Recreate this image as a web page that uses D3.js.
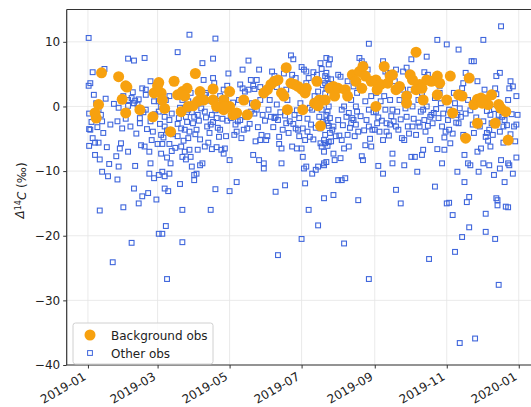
<!DOCTYPE html>
<html lang="en">
<head>
	<meta charset="utf-8">
	<title>Background vs other obs</title>
	<script src='https://d3js.org/d3.v7.min.js'></script>
	<style>
		body { margin:0; background:#fff; }
		text { font-family:"DejaVu Sans", sans-serif; fill:#222; }
		.grid line { stroke:#e4e4e4; stroke-width:0.8; }
		.axis path, .axis line { stroke:#333; }
	</style>
</head>
<body>
	<div id="chart"></div>
	<script>
		// day offsets from 2019-01-01, value in permil
		var bgObs = [
			[7,-1.8],[6,-1],[9,0.3],[11.5,5.2],[26,4.6],[29,1.1],[32,3.2],[33,3],[32,-1.0],[44,-0.5],
			[55,-1.6],[60,3.7],[62,2.1],[56,2.1],[65,-0.3],[63,1],[70,-3.9],[73,3.9],[76,1.8],[80,2.3],
			[84,2.8],[79,-0.8],[85,0],[91,5.1],[95,2.3],[93,0.8],[89,0.1],[106,2.7],[106,1],[109,0],
			[115,-0.5],[120,2.3],[120,0],[123,-1.3],[126,-1],[132,1],[135,-1.3],[142,0.3],[149,2.1],[152,2.6],
			[155,3.4],[158,3.9],[161,4.1],[168,6.0],[166,1.6],[169,-0.5],[172,3.6],[175,3.4],[178,3.1],[181,2.7],
			[184,2.1],[182,-0.5],[185,2.8],[192,0.5],[194,3.9],[196,1.0],[197,-3.0],[201,1],[195,0.1],[205,2.8],
			[208,3.1],[209,1.6],[212,2.8],[218,2.6],[220,1.6],[224,4.9],[227,3.9],[230,5.4],[233,6.2],[232,2.8],
			[235,4.7],[240,3.9],[244,0],[244,4.1],[248,3.4],[251,6.2],[254,3.6],[258,4.9],[261,2.6],[264,3.1],
			[270,1.6],[270,0.5],[273,4.9],[275,4.1],[278,8.4],[281,3.4],[284,1],[287,4.1],[291,3.9],[296,4.7],
			[296,1.8],[298,3.6],[304,1],[307,4.7],[309,-1],[314,1.8],[317,1.6],[320,-4.9],[323,4.4],[327,0.3],
			[330,1.1],[330,-2.6],[333,1.3],[336,1.0],[339,0.3],[342,1.8],[345,-2.6],[348,0.3],[350,-0.3],[354,-0.8],
			[356,-5.2],[58,2.3],[59,3.2],[82,1.6],[98,1],[115,1],[116,0],[164,2.1],[245,2.6],[256,4.7],
			[278,2.6],[283,2.8],[334,0.5]
		];
		var otherObs = [
			// Jan
			[0.6,10.6],[0.6,3.2],[2,3.6],[4,5.3],[14,5.8],[1,-1.1],[1,-3.5],[2,-3.6],[1,-6.1],[4,-4.9],
			[6,-5.6],[9,-5.6],[6,-7.5],[10,-8.2],[12,-10.1],[17,-10.8],[10,-16.1],[15,1.2],[11,-1.3],[9,-0.5],
			[12,-2.3],[7,0.5],[21,-24.1],[24,-7.7],[25,-11.3],[26,-9.3],[27,-6.5],[26,-0.2],[25,-2.3],[29,-3.4],
			[30,-15.6],[28,-5.7],[3,-2.4],[8,-3.2],[13,-4.1],[16,-6.3],[19,-2.8],[22,0.4],[5,1.8],[18,-8.9],
			// Feb
			[34,7.4],[39,7.1],[48,7.5],[30,1.6],[34,1],[34,0.1],[39,0.5],[37,1.3],[40,0.9],[43,1.1],
			[34,-7],[40,-9.2],[39,-12.7],[43,-15],[37,-21.1],[46,-13.9],[51,-13.4],[45,-6],[48,-6.2],[52,-7],
			[53,-8.8],[52,-10.4],[56,-11.1],[46,2.8],[49,-0.5],[53,-2.3],[55,-3.9],[44,-1.8],[49,1.8],[56,0.8],
			[58,-14.4],[49,2.6],[53,3.9],[32,-1.9],[36,-3.1],[41,-4.2],[44,-2.6],[47,-0.9],[50,-3.5],[54,-5.2],
			[57,-1.2],[38,2.2],[42,0.3],
			// Mar
			[60,-19.7],[63,-19.7],[66,-18.5],[67,-26.7],[65,-12.7],[68,-13.1],[65,-10.8],[60,-10.6],[63,-10.1],[69,-10.4],
			[70,-8.8],[67,-7.9],[62,-7.3],[59,-5.8],[63,-5.8],[69,-5.8],[62,-4.4],[65,-3.1],[69,-2.1],[65,-1.6],
			[60,-0.8],[62,0],[60,0.8],[66,1],[69,1.6],[74,4.1],[76,8.4],[79,-3.4],[76,-4.6],[79,-6.2],
			[80,-7.8],[82,-7],[78,-12.0],[80,-16],[80,-21],[76,-2.7],[83,-1.6],[85,-0.5],[82,-3.6],[86,11.1],
			[85,-4.9],[86,-6.7],[88,-9.3],[87,-7.8],[83,-8.2],[85,0.8],[87,2.1],[80,1],[82,2.3],
			[61,-2.7],[64,-4.8],[67,-3.7],[71,-1.1],[72,-4.3],[74,-6.4],[77,-1.8],[78,-0.2],[81,-5.3],[84,-2.4],
			[86,-3.9],[88,-0.9],[71,-6.9],
			// Apr
			[90,-10.6],[92,-10.4],[90,-11.4],[93,-6.7],[95,-9.1],[97,-8.8],[99,-6.2],[95,-5.1],[92,-3.6],[89,-2.6],
			[90,-1.6],[93,-1.3],[97,6.7],[98,4.1],[99,1.8],[100,2.1],[102,0.9],[99,-0.8],[104,-2.8],[101,-3.1],
			[105,-1.3],[106,7.4],[108,10.5],[107,3.6],[106,4.4],[104,-16],[108,-12.8],[105,-6.6],[109,-6.3],[111,-4.7],
			[112,-3.6],[113,-6.7],[115,-7.3],[116,-6.5],[118,-2.2],[113,-0.5],[112,1.6],[115,2.6],[117,1],[118,3.2],
			[111,0.5],[109,-1.8],[91,-4.3],[94,-2.2],[96,-0.3],[100,-1.7],[103,-4.1],[106,-2.4],[108,-0.6],[110,-3.3],
			[114,-1.9],[117,-4.6],[119,-0.4],[102,-5.6],
			// May
			[120,-13.1],[120,-8.3],[119,5.1],[125,-2.8],[124,-4.4],[126,-3.9],[125,-1],[128,1],[131,2.8],[131,5.7],
			[126,-11.7],[129,-2.1],[132,-3.6],[135,-3.4],[136,7.1],[138,4.1],[140,3.2],[140,-7.5],[142,-5.4],[145,-8.3],
			[146,-5.2],[143,-0.5],[145,5.7],[146,1],[148,-1.3],[149,-8.8],[149,-9.6],[133,0.8],[138,-0.8],[139,0.5],
			[136,2.6],[143,4.1],[146,3.0],[133,2.3],[121,-1.8],[123,0.6],[127,-2.3],[130,-4.9],[134,-1.6],[137,-2.7],
			[141,-1.1],[144,-3.2],[147,-4.4],[150,-2.2],[129,3.4],[141,2.7],
			// Jun
			[151,-5.2],[152,-4.6],[155,-1.6],[158,-1.8],[159,-1.6],[161,-2.1],[162,-4.7],[162,-5.8],[164,-6.5],[159,-13.2],
			[161,-23],[167,-12.2],[164,-8.8],[156,5.4],[158,4.7],[154,1],[168,2.6],[169,1],[168,-2.6],[171,-2.3],
			[172,7.9],[174,7.3],[173,4.9],[176,4.4],[175,-1.3],[176,-3.4],[178,-3.6],[179,-1.8],[180,0.5],[177,-6.5],
			[173,-6.2],[153,-0.5],[157,-3.2],[160,0.3],[163,-0.9],[165,-3.6],[167,-1.4],[170,-4.1],[174,-2.7],[177,-0.6],
			[179,-4.6],[160,3.0],[166,5.1],
			// Jul
			[181,-20.5],[184,-11.9],[183,-9.6],[185,-9.3],[182,-7.8],[181,-6.5],[184,-5.2],[181,6.1],[183,5.7],[185,5.4],
			[187,4.4],[185,3.6],[182,-3.4],[186,-3.9],[188,-4.7],[187,-16],[190,-10.4],[193,-9.8],[191,5.3],[194,4.9],
			[195,-18.4],[195,-9.3],[197,-5.7],[198,-6.2],[200,-5.2],[200,-7],[200,-8.8],[200,-14.2],[197,6.7],[198,5.8],
			[201,4.7],[202,7.5],[205,7.3],[204,6.5],[201,3.6],[202,2.8],[204,0],[202,-1.3],[205,-1.8],[203,-2.6],
			[207,-3.6],[208,-3.1],[205,-4.1],[208,-7.3],[209,-8.3],[208,-13.7],[197,-3.4],[201,-5.7],[209,1.6],[198,-0.5],
			[194,0.8],[195,2.3],[190,-0.5],[192,1.6],[202,5.2],[203,4.3],[204,3.5],[201,2.0],[203,-0.8],[202,-2.2],
			[204,-3.0],[201,-4.4],[203,-6.1],[202,-8.6],[200,-9.1],[204,-5.5],[186,-1.9],[188,-0.2],[189,-2.8],[191,-5.1],
			[193,-3.3],[196,-1.6],[199,-2.4],[206,-5.4],[210,-4.6],[199,3.3],[206,4.2],
			// Aug
			[212,-11.4],[215,-11.4],[217,-21.2],[218,-11.1],[214,-8],[217,-6.5],[215,-5.2],[220,-4.4],[221,-6.2],[212,-2.1],
			[215,-0.5],[217,0],[221,-1],[223,-2.6],[224,-1.8],[225,-2.1],[227,-2.8],[229,-3.9],[229,-14.5],[233,-8.3],
			[232,-7.7],[232,7],[230,7.5],[234,6.5],[237,5.7],[238,9.7],[238,-26.7],[240,-6.2],[235,-6],[238,-3.1],
			[241,-3.6],[225,3.1],[228,2.1],[220,3.9],[212,4.9],[214,4.6],[238,-0.5],[235,0.8],[227,0],[223,1],
			[240,1.6],[213,-4.5],[216,-2.9],[219,-1.6],[222,-3.3],[226,-4.6],[228,-0.8],[231,-1.5],[234,-3.7],[236,-2.1],
			[239,-5.0],[242,-0.9],[229,5.2],
			// Sep
			[243,-3.6],[245,-2.6],[247,-3.9],[246,-9.2],[250,-5.2],[250,-10.4],[253,-2.6],[253,-3.9],[256,-2.8],[258,-7.3],
			[258,-8.8],[261,-3.1],[261,-12.9],[263,-3.6],[265,-15],[266,-4.9],[268,-5.2],[270,-1.6],[271,-3.1],[268,-9.1],
			[250,7],[252,5.4],[254,5.2],[248,0.8],[251,1.6],[256,1],[258,-0.5],[261,5.7],[264,1],[244,2.1],
			[247,3.6],[267,5.4],[270,6],[267,2.6],[273,2.6],[244,-0.8],[246,-1.7],[249,-2.2],[252,-0.5],[255,-4.5],
			[257,-1.5],[259,-2.3],[262,-0.8],[265,-2.0],[269,-0.3],[272,-4.2],[260,3.9],
			// Oct
			[274,7.3],[275,0],[275,-3.1],[277,-7.8],[279,-10.1],[274,-7.8],[281,-3.1],[283,-7.5],[284,-6.7],[286,-3.9],
			[287,7.7],[288,4.9],[289,-23.6],[290,-5.2],[291,-1.3],[293,-1],[290,-1.6],[294,-12.4],[296,10.3],[296,-6.6],
			[300,-8.8],[302,-6.7],[303,-3.9],[300,-3.1],[299,0.5],[294,1.3],[298,2.1],[284,-0.5],[287,0],[283,2.1],
			[298,3.2],[280,1],[276,-1.9],[278,-4.4],[280,-2.5],[282,-0.8],[285,-2.1],[288,-3.0],[292,-2.6],[295,-0.4],
			[297,-1.8],[301,-1.1],[302,-4.8],[285,5.3],
			// Nov
			[304,9.6],[304,-15],[306,-14.9],[309,-16.8],[311,-22.5],[313,-10.1],[307,-5.7],[306,-3.6],[314,8.8],[315,-36.6],
			[316,-1.6],[317,-20.2],[319,-11.7],[319,-7.5],[321,-14.8],[323,-18.7],[323,-14],[322,-8.8],[324,-9.1],[325,7],
			[327,7],[326,-2.8],[328,-35.9],[330,-7],[331,-10.1],[333,-6.5],[310,2.1],[311,0.5],[313,-1.3],[317,2.8],
			[322,1],[320,5.2],[330,3.9],[326,0],[306,-0.5],[314,-2.6],[305,-2.1],[308,-1.4],[309,-4.2],[312,-2.5],
			[315,-0.3],[318,-4.4],[320,-1.1],[324,-0.6],[327,-4.1],[329,-1.7],[332,-3.1],[318,3.6],
			// Dec
			[335,10.3],[337,-16.6],[337,-19.4],[340,-9.1],[335,-8.8],[337,-4.7],[338,-4.1],[340,-3.6],[341,-6.2],[344,-10.6],
			[345,-20.5],[346,-14.2],[347,-14.5],[347,-15.3],[348,-27.6],[349,-9.6],[350,12.4],[350,-8.3],[349,5.2],[346,4.7],
			[345,2.8],[353,-11.7],[354,-15.5],[356,-15.6],[356,-8.8],[357,-9.1],[360,-10.4],[363,-7.9],[361,-3.1],[363,-2.8],
			[364,-1.3],[363,1.6],[357,2.8],[358,3.9],[360,3.1],[356,1],[352,-3.1],[353,-2.1],[349,-3.9],[336,2.6],
			[348,-1.3],[341,-1.3],[335,-2.3],[338,-0.7],[339,-5.3],[342,-2.6],[343,-4.4],[344,-0.4],[347,-2.2],[351,-1.6],
			[352,-5.6],[355,-2.9],[358,-4.3],[359,-1.2],[362,-5.4],[346,1.9]
		];
		var yTicks = [10, 0, -10, -20, -30, -40];
		var xTickLabels = ["2019-01","2019-03","2019-05","2019-07","2019-09","2019-11","2020-01"];
		var legendLabels = ["Background obs", "Other obs"];

		const width = 531;
		const height = 407;
		const mLeft = 66.7, mTop = 9.5, mRight = 540, mBottom = 365;
		const orange = "#f7a10f", blue = "#3f66dc";

		var start = new Date(2019, 0, 1);
		function toDate(d) { return new Date(start.getTime() + d * 864e5); }

		var svg = d3.select("#chart").append("svg")
			.attr("width", width)
			.attr("height", height);

		var xscale = d3.scaleTime()
			.domain([new Date(2018, 11, 14), new Date(2020, 0, 19)])
			.range([mLeft, mRight]);
		var yscale = d3.scaleLinear()
			.domain([-40, 15])
			.range([mBottom, mTop]);
		var xTickDates = xTickLabels.map(function(s) { return d3.timeParse("%Y-%m")(s); });

		// grid
		var grid = svg.append("g").attr("class", "grid");
		grid.selectAll("line.gx").data(xTickDates).enter().append("line")
			.attr("x1", function(d) { return xscale(d); }).attr("x2", function(d) { return xscale(d); })
			.attr("y1", mTop).attr("y2", mBottom);
		grid.selectAll("line.gy").data(yTicks).enter().append("line")
			.attr("x1", mLeft).attr("x2", width)
			.attr("y1", function(d) { return yscale(d); }).attr("y2", function(d) { return yscale(d); });

		// other obs (hollow squares)
		var s = 4.8;
		svg.append("g").selectAll("rect").data(otherObs).enter().append("rect")
			.attr("x", function(d) { return xscale(toDate(d[0])) - s/2; })
			.attr("y", function(d) { return yscale(d[1]) - s/2; })
			.attr("width", s).attr("height", s)
			.attr("fill", "none").attr("stroke", blue).attr("stroke-width", 1.1);

		// background obs
		svg.append("g").selectAll("circle").data(bgObs).enter().append("circle")
			.attr("cx", function(d) { return xscale(toDate(d[0])); })
			.attr("cy", function(d) { return yscale(d[1]); })
			.attr("r", 5.5)
			.attr("fill", orange);

		// axes
		var yAxis = d3.axisLeft(yscale).tickValues(yTicks).tickSize(3.5).tickPadding(3)
			.tickFormat(function(d) { return d < 0 ? "\u2212" + Math.abs(d) : d; });
		var gy = svg.append("g").attr("class", "axis")
			.attr("transform", "translate(" + mLeft + ",0)")
			.call(yAxis);
		gy.select(".domain").remove();
		gy.selectAll("text").style("font-size", "12px").attr("fill", "#222");

		var xAxis = d3.axisBottom(xscale).tickValues(xTickDates).tickSize(3.5).tickFormat("");
		var gx = svg.append("g").attr("class", "axis")
			.attr("transform", "translate(0," + mBottom + ")")
			.call(xAxis);
		gx.select(".domain").remove();
		svg.append("g").selectAll("text").data(xTickDates).enter().append("text")
			.attr("transform", function(d, i) { return "translate(" + (xscale(d) - 1) + "," + (mBottom + 14) + ") rotate(-30)"; })
			.attr("text-anchor", "end")
			.style("font-size", "12px")
			.text(function(d, i) { return xTickLabels[i]; });

		// frame
		svg.append("line").attr("x1", mLeft).attr("x2", mLeft).attr("y1", mTop).attr("y2", mBottom)
			.attr("stroke", "#333").attr("stroke-width", 1.2);
		svg.append("line").attr("x1", mLeft).attr("x2", width).attr("y1", mBottom).attr("y2", mBottom)
			.attr("stroke", "#333").attr("stroke-width", 1.2);
		svg.append("line").attr("x1", mLeft).attr("x2", width).attr("y1", mTop).attr("y2", mTop)
			.attr("stroke", "#333").attr("stroke-width", 1.2);

		// y label
		var ylab = svg.append("text")
			.attr("transform", "translate(24," + yscale(-13) + ") rotate(-90)")
			.attr("text-anchor", "middle")
			.style("font-size", "12px");
		ylab.append("tspan").style("font-style", "italic").text("\u0394");
		ylab.append("tspan").attr("dy", "-0.4em").style("font-size", "8px").text("14");
		ylab.append("tspan").attr("dy", "0.4em").style("font-style", "italic").text("C");
		ylab.append("tspan").text(" (\u2030)");

		// legend
		var legend = svg.append("g").attr("transform", "translate(73,323)");
		legend.append("rect").attr("width", 140).attr("height", 41).attr("rx", 2.5)
			.attr("fill", "#fff").attr("fill-opacity", 0.85).attr("stroke", "#d0d0d0");
		legend.append("circle").attr("cx", 17).attr("cy", 12).attr("r", 5.5).attr("fill", orange);
		legend.append("rect").attr("x", 17 - s/2).attr("y", 30 - s/2).attr("width", s).attr("height", s)
			.attr("fill", "none").attr("stroke", blue);
		legend.selectAll("text.lab").data(legendLabels).enter().append("text")
			.attr("x", 38).attr("y", function(d, i) { return 16.5 + i * 18; })
			.style("font-size", "12px")
			.text(function(d) { return d; });
	</script>
</body>
</html>
